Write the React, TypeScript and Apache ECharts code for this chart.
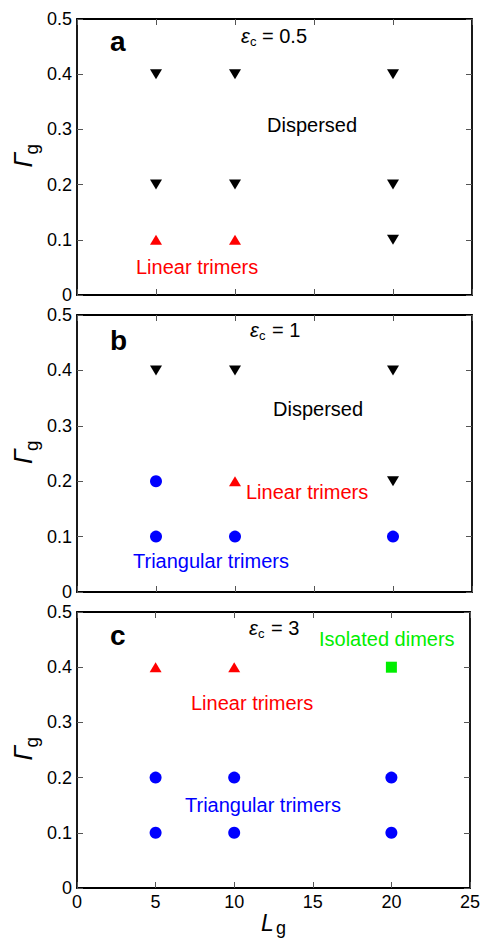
import React, { useEffect, useRef } from "react";
import * as echarts from "echarts";

// ---- data ----
const xTickValues = [0, 5, 10, 15, 20, 25];
const yTickValues = [0, 0.1, 0.2, 0.3, 0.4, 0.5];

const aDispersed = [[5, 0.4], [10, 0.4], [20, 0.4], [5, 0.2], [10, 0.2], [20, 0.2], [20, 0.1]];
const aLinear = [[5, 0.1], [10, 0.1]];

const bDispersed = [[5, 0.4], [10, 0.4], [20, 0.4], [20, 0.2]];
const bLinear = [[10, 0.2]];
const bTriangular = [[5, 0.2], [5, 0.1], [10, 0.1], [20, 0.1]];

const cLinear = [[5, 0.4], [10, 0.4]];
const cDimers = [[20, 0.4]];
const cTriangular = [[5, 0.2], [10, 0.2], [20, 0.2], [5, 0.1], [10, 0.1], [20, 0.1]];

const panelLetters = ["a", "b", "c"];
const epsValues = ["0.5", "1", "3"];

const FONT = '"Liberation Sans", Arial, Helvetica, sans-serif';
const BLACK = "#000000";
const RED = "#ff0000";
const BLUE = "#0000ff";
const GREEN = "#00ee00";

const grids = [
  { left: 77, top: 19, width: 395, height: 276 },
  { left: 77, top: 315, width: 395, height: 277 },
  { left: 77, top: 612, width: 395, height: 276 },
];

function txt(text: string, x: number, y: number, size: number, color: string, opts: any = {}) {
  return {
    type: "text",
    x,
    y,
    rotation: opts.rotation || 0,
    silent: true,
    style: {
      text,
      fill: color,
      fontSize: size,
      fontFamily: FONT,
      fontStyle: opts.italic ? "italic" : "normal",
      fontWeight: opts.bold ? "bold" : "normal",
      align: "left",
      verticalAlign: "middle",
      textAlign: "left",
      textVerticalAlign: "middle",
    },
  };
}

export default function App() {
  const ref = useRef<HTMLDivElement>(null);

  useEffect(() => {
    document.body.style.margin = "0";
    if (!ref.current) return;
    const chart = echarts.init(ref.current, undefined, { renderer: "svg" });

    const xAxes: any[] = [];
    const yAxes: any[] = [];
    grids.forEach((g, i) => {
      ["bottom", "top"].forEach((pos) => {
        xAxes.push({
          type: "value",
          gridIndex: i,
          position: pos,
          min: xTickValues[0],
          max: xTickValues[xTickValues.length - 1],
          interval: 5,
          axisLine: { show: true, onZero: false, lineStyle: { color: BLACK, width: 1.8 } },
          axisTick: { show: true, inside: true, length: 6, lineStyle: { color: "#555", width: 1 } },
          axisLabel: {
            show: pos === "bottom" && i === 2,
            fontSize: 18,
            fontFamily: FONT,
            color: BLACK,
            margin: 5,
          },
          splitLine: { show: false },
        });
      });
      ["left", "right"].forEach((pos) => {
        yAxes.push({
          type: "value",
          gridIndex: i,
          position: pos,
          min: yTickValues[0],
          max: yTickValues[yTickValues.length - 1],
          interval: 0.1,
          axisLine: { show: true, onZero: false, lineStyle: { color: BLACK, width: 1.8 } },
          axisTick: { show: true, inside: true, length: 6, lineStyle: { color: "#555", width: 1 } },
          axisLabel: {
            show: pos === "left",
            fontSize: 18,
            fontFamily: FONT,
            color: BLACK,
            margin: 5,
            formatter: (v: number) => (v === 0 ? "0" : v.toFixed(1)),
          },
          splitLine: { show: false },
        });
      });
    });

    const mk = (data: number[][], panel: number, kind: string) => {
      const base: any = {
        type: "scatter",
        xAxisIndex: panel * 2,
        yAxisIndex: panel * 2,
        data,
        silent: true,
      };
      if (kind === "down") {
        return { ...base, symbol: "triangle", symbolRotate: 180, symbolSize: [12, 10], itemStyle: { color: BLACK, opacity: 1 } };
      }
      if (kind === "up") {
        return { ...base, symbol: "triangle", symbolSize: [12, 10], itemStyle: { color: RED, opacity: 1 } };
      }
      if (kind === "circle") {
        return { ...base, symbol: "circle", symbolSize: 12, itemStyle: { color: BLUE, opacity: 1 } };
      }
      return { ...base, symbol: "rect", symbolSize: 11, itemStyle: { color: GREEN, opacity: 1 } };
    };

    const series = [
      mk(aDispersed, 0, "down"),
      mk(aLinear, 0, "up"),
      mk(bDispersed, 1, "down"),
      mk(bLinear, 1, "up"),
      mk(bTriangular, 1, "circle"),
      mk(cLinear, 2, "up"),
      mk(cDimers, 2, "square"),
      mk(cTriangular, 2, "circle"),
    ];

    const graphics: any[] = [];
    const letterY = [41, 340, 635];
    const epsY = [36, 330, 628];
    const epsX = [241, 250, 249];
    const eqX = [262, 272, 271];
    panelLetters.forEach((l, i) => {
      graphics.push(txt(l, 110, letterY[i], 28, BLACK, { bold: true }));
      graphics.push(txt("ε", epsX[i], epsY[i], 20, BLACK, { italic: true }));
      graphics.push(txt("c", epsX[i] + 9, epsY[i] + 5, 13, BLACK));
      graphics.push(txt("= " + epsValues[i], eqX[i], epsY[i], 20, BLACK));
    });
    grids.forEach((g) => {
      const c = g.top + g.height / 2;
      graphics.push(txt("Γ", 23, c + 10.5, 26, BLACK, { italic: true, rotation: Math.PI / 2 }));
      graphics.push(txt("g", 31, c - 2.5, 19, BLACK, { rotation: Math.PI / 2 }));
    });
    graphics.push(txt("L", 261, 923, 23, BLACK, { italic: true }));
    graphics.push(txt("g", 276, 928, 18, BLACK));
    graphics.push(txt("Dispersed", 267, 125, 20, BLACK));
    graphics.push(txt("Linear trimers", 136, 267, 20, RED));
    graphics.push(txt("Dispersed", 273, 409, 20, BLACK));
    graphics.push(txt("Linear trimers", 246, 492, 20, RED));
    graphics.push(txt("Triangular trimers", 133, 561, 20, BLUE));
    graphics.push(txt("Isolated dimers", 319, 639, 20, GREEN));
    graphics.push(txt("Linear trimers", 191, 703, 20, RED));
    graphics.push(txt("Triangular trimers", 185, 805, 20, BLUE));

    chart.setOption({
      animation: false,
      backgroundColor: "#ffffff",
      grid: grids.map((g) => ({ ...g, containLabel: false })),
      xAxis: xAxes,
      yAxis: yAxes,
      series,
      graphic: graphics,
    });

    return () => chart.dispose();
  }, []);

  return <div ref={ref} style={{ width: 483, height: 941 }} />;
}
